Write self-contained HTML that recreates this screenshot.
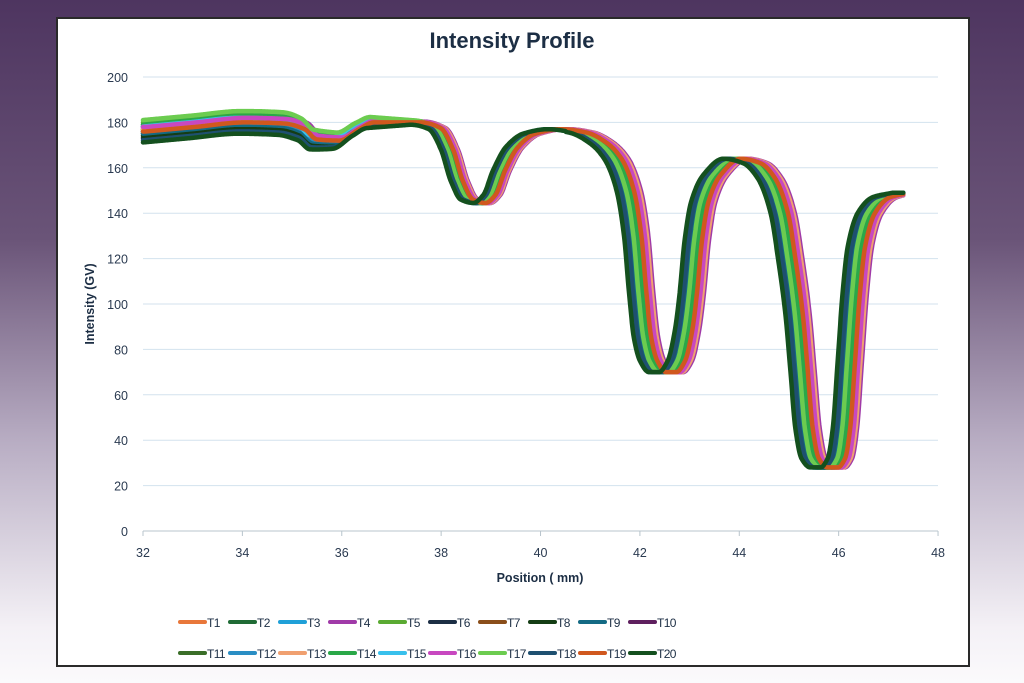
<!DOCTYPE html>
<html><head><meta charset="utf-8"><style>
html,body{margin:0;padding:0;width:1024px;height:683px;overflow:hidden}
body{background:linear-gradient(to bottom,#4e3560 0%,#6a5478 35%,#b9aec4 65%,#f4f1f6 92%,#fbfafc 100%);font-family:"Liberation Sans",sans-serif}
#box{position:absolute;left:56px;top:17px;width:910px;height:646px;background:#fff;border:2px solid #2a2a2a}
svg{position:absolute;left:0;top:0}
</style></head><body>
<div id="box"></div>
<svg id="s" width="1024" height="683" xmlns="http://www.w3.org/2000/svg">
<text x="512" y="48" text-anchor="middle" font-size="22" font-weight="bold" fill="#1c2e44" font-family="Liberation Sans, sans-serif">Intensity Profile</text>
<g id="grid"></g>
<g id="series"></g>
<text transform="translate(94,304) rotate(-90)" text-anchor="middle" font-size="12.5" font-weight="bold" fill="#1c2e44">Intensity (GV)</text>
<text x="540" y="582" text-anchor="middle" font-size="12.5" font-weight="bold" fill="#1c2e44">Position  ( mm)</text>
<g id="leg"></g>
</svg>
<script>
var ns="http://www.w3.org/2000/svg";
function el(t,a,p){var e=document.createElementNS(ns,t);for(var k in a)e.setAttribute(k,a[k]);p.appendChild(e);return e;}
var X=function(v){return 143+(v-32)*49.69};
var Y=function(v){return 531-v*2.27};
var g=document.getElementById('grid');
for(var v=0;v<=200;v+=20){
 if(v>0)el('line',{x1:143,x2:938,y1:Y(v),y2:Y(v),stroke:'#d3e2ee','stroke-width':1},g);
 var t=el('text',{x:128,y:Y(v)+5,'text-anchor':'end','font-size':12.5,fill:'#2a3a50'},g);t.textContent=v;
}
el('line',{x1:143,x2:938,y1:531,y2:531,stroke:'#b8c4cc','stroke-width':1},g);
for(var v=32;v<=48;v+=2){
 el('line',{x1:X(v),x2:X(v),y1:531,y2:536,stroke:'#b8c4cc'},g);
 var t=el('text',{x:X(v),y:557,'text-anchor':'middle','font-size':12.5,fill:'#2a3a50'},g);t.textContent=v;
}
var P=[[32,176],[33,178],[34,180],[34.8,179.5],[35.2,177],[35.45,172.5],[35.9,172],[36.3,177],[36.6,180],[37.5,180],[37.9,177.5],[38.15,168],[38.35,154],[38.55,146],[38.8,144.5],[39.0,148],[39.2,159],[39.45,169],[39.8,175],[40.3,177],[40.8,175.5],[41.2,171],[41.5,164],[41.75,150],[41.9,130],[42.0,105],[42.1,85],[42.22,75],[42.4,70],[42.6,70],[42.78,75],[42.92,88],[43.02,105],[43.12,128],[43.25,145],[43.5,157],[43.9,164],[44.3,162],[44.6,155],[44.85,140],[45.0,120],[45.15,95],[45.25,70],[45.35,45],[45.47,32],[45.65,28],[45.85,28],[46.0,32],[46.1,45],[46.2,75],[46.3,105],[46.4,125],[46.6,140],[46.9,147],[47.3,149]];
var n=P.length,xs=P.map(p=>p[0]),ys=P.map(p=>p[1]),d=[],m=[];
for(var i=0;i<n-1;i++)d.push((ys[i+1]-ys[i])/(xs[i+1]-xs[i]));
m[0]=d[0];m[n-1]=d[n-2];
for(var i=1;i<n-1;i++){if(d[i-1]*d[i]<=0)m[i]=0;else{var w1=2*(xs[i+1]-xs[i])+(xs[i]-xs[i-1]),w2=(xs[i+1]-xs[i])+2*(xs[i]-xs[i-1]);m[i]=(w1+w2)/(w1/d[i-1]+w2/d[i]);}}
function f(x){if(x<=xs[0])return ys[0];if(x>=xs[n-1])return ys[n-1];var i=0;while(x>xs[i+1])i++;var h=xs[i+1]-xs[i],t=(x-xs[i])/h,t2=t*t,t3=t2*t;
return (2*t3-3*t2+1)*ys[i]+(t3-2*t2+t)*h*m[i]+(-2*t3+3*t2)*ys[i+1]+(t3-t2)*h*m[i+1];}
var C=['#e8773a','#1f6b35','#1fa0d8','#a03aa8','#5aaa32','#1c2e44','#8a4e1a','#143d14','#146a84','#5e1f5e','#3a6e28','#2a8ec4','#f0a070','#2aa848','#38c0ec','#c848c0','#6ccc50','#1e5070','#d0581e','#14501e'];
var DX=[0.17,-0.08,-0.13,0.27,0.02,-0.16,0.1,-0.1,-0.06,0.22,0.04,0.0,0.24,0.06,-0.2,0.2,-0.03,-0.14,0.13,-0.22];
var DY=[1,-1,2,3,4,-3,0,-2,-1,2,1,0,1,3,2,2,5,-4,0,-5];
var s=document.getElementById('series');
for(var k=0;k<20;k++){var pts=[];for(var x=32;x<=47.3;x+=0.01){var s2=x<37?0.4:(x<40.5?0.7:1);var dy=DY[k]*Math.max(0,Math.min(1,(38-x)/3));pts.push(X(x).toFixed(1)+','+Y(f(x-DX[k]*s2)+dy).toFixed(1));}
 el('polyline',{points:pts.join(' '),fill:'none',stroke:C[k],'stroke-width':4.5,'stroke-linejoin':'round','stroke-linecap':'round'},s);}
var L=document.getElementById('leg');
for(var k=0;k<20;k++){var r=Math.floor(k/10),c=k%10;var x0=180+c*50,y0=r?653:622;
 el('line',{x1:x0,x2:x0+25,y1:y0,y2:y0,stroke:C[k],'stroke-width':4,'stroke-linecap':'round'},L);
 var t=el('text',{x:x0+27,y:y0+5,'font-size':12,fill:'#1c2e44','letter-spacing':'-0.6'},L);t.textContent='T'+(k+1);}
</script>
</body></html>
